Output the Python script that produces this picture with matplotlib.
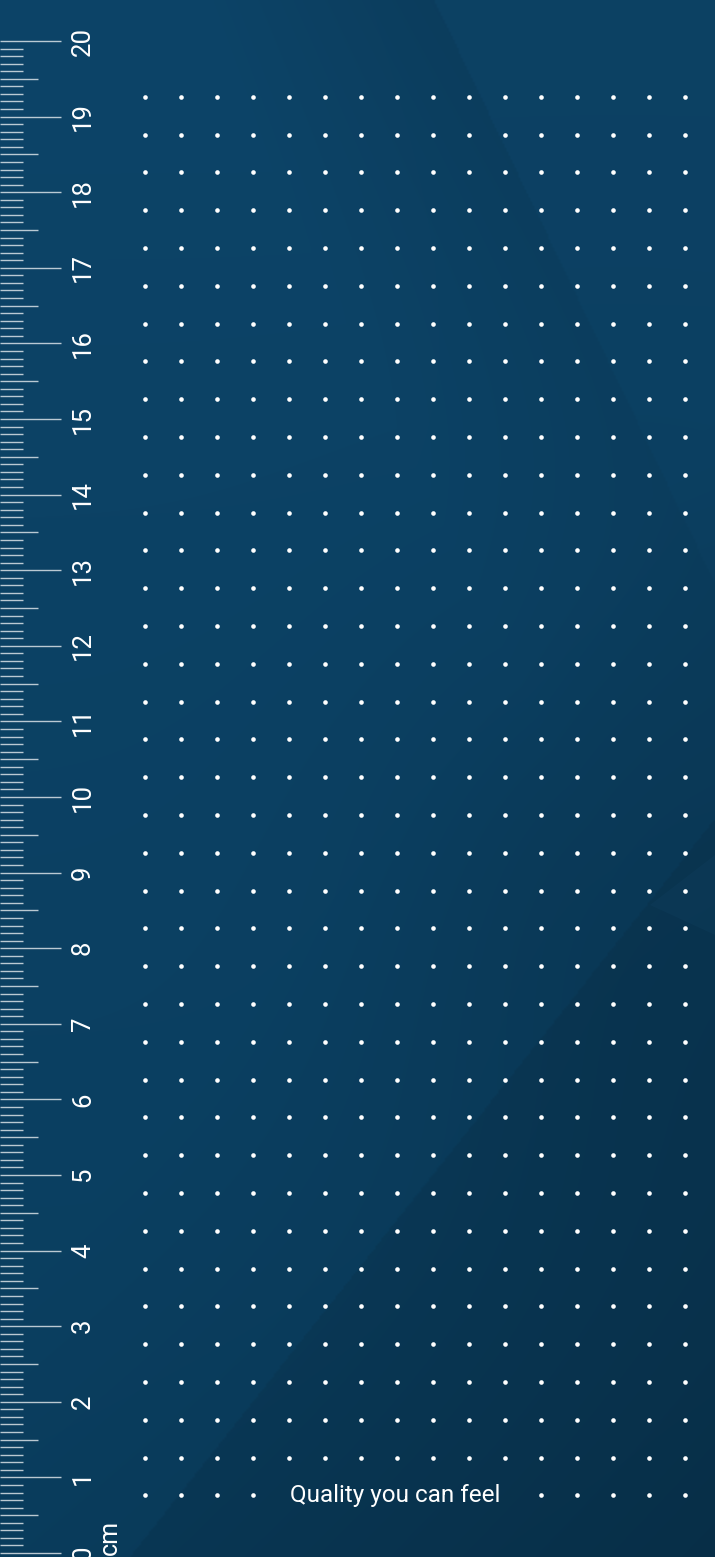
import numpy as np
import matplotlib
matplotlib.use("Agg")
import matplotlib.pyplot as plt

# ruler / grid values (cm)
cm_labels = [str(i) for i in range(0, 21)]
cm_marks = np.arange(0, 21)
mm_marks = np.arange(0, 201) / 10.0
dot_rows = 0.763 + 0.5 * np.arange(38)          # cm
dot_cols = 144.5 + 36.0 * np.arange(16)         # px
text_gap_cols = [4, 5, 6, 7, 8, 9, 10]          # columns hidden behind the slogan
slogan = "Quality you can feel"
unit = "cm"

W, H = 715, 1557
PX_PER_CM = 75.6
ZERO_PX = 1553.0
ylo = -(H - ZERO_PX) / PX_PER_CM
yhi = ZERO_PX / PX_PER_CM

plt.rcParams['font.family'] = ['Roboto', 'DejaVu Sans']

fig = plt.figure(figsize=(W / 100, H / 100), dpi=100)
ax = fig.add_axes([0, 0, 1, 1])
ax.set_xlim(0, W)
ax.set_ylim(ylo, yhi)
ax.axis('off')

# background shading
X, Y = np.meshgrid(np.linspace(0, W, 360), np.linspace(0, H, 780))
top = np.array([13, 68, 104]) / 255.0
bot = np.array([10, 62, 95]) / 255.0
t = (Y / H)[..., None]
img = top * (1 - t) + bot * t
# darker band left of the upper diagonal edge
p1, p2 = np.array([435.0, 0.0]), np.array([705.0, 560.0])
n1 = np.array([p2[1] - p1[1], -(p2[0] - p1[0])])
n1 /= np.hypot(*n1)
d1 = (X - p1[0]) * n1[0] + (Y - p1[1]) * n1[1]
band = np.where(d1 < 0, 0.75 * np.clip((d1 + 220) / 220, 0, 1), 0.3) * np.clip(1 - Y / 1100, 0, 1)
img = img * (1 - 0.14 * band[..., None])
# darker lower-right region
q1, q2 = np.array([130.0, 1557.0]), np.array([620.0, 940.0])
n2 = np.array([q2[1] - q1[1], -(q2[0] - q1[0])])
n2 /= np.hypot(*n2)
d2 = -((X - q1[0]) * n2[0] + (Y - q1[1]) * n2[1])
low = np.where(d2 > 0, 0.12 + 0.14 * np.clip(d2 / 500, 0, 1), 0.05 * np.clip((d2 + 250) / 250, 0, 1))
img = img * (1 - low[..., None])
# soft mid-right darkening
mid = np.exp(-(((X - 620) / 260) ** 2 + ((Y - 880) / 320) ** 2))
img = img * (1 - 0.08 * mid[..., None])
ax.imshow(np.clip(img, 0, 1), extent=(0, W, ylo, yhi), origin='upper',
          aspect='auto', interpolation='bilinear', zorder=0)

# faint lighter edge at right middle
ax.fill([715, 650, 715], [(ZERO_PX - 855) / PX_PER_CM, (ZERO_PX - 905) / PX_PER_CM,
                          (ZERO_PX - 935) / PX_PER_CM],
        color='#164a6c', alpha=0.18, lw=0, zorder=1)

# ruler ticks
tick_len = np.where(np.isclose(mm_marks % 1, 0), 61,
                    np.where(np.isclose(mm_marks % 0.5, 0), 38, 23))
ax.hlines(mm_marks, 0, tick_len, colors='white', alpha=0.72, lw=1.0, zorder=3)

for v, lab in zip(cm_marks, cm_labels):
    ax.text(83, v, lab, rotation=90, ha='center', va='center',
            color='white', fontsize=18.5, zorder=4)
ax.text(110, (ZERO_PX - 1537) / PX_PER_CM, unit, rotation=90, ha='center',
        va='center', color='white', fontsize=18, zorder=4)

# dot grid
gx, gy = np.meshgrid(dot_cols, dot_rows)
keep = np.ones_like(gx, dtype=bool)
keep[0, text_gap_cols] = False
ax.scatter(gx[keep], gy[keep], s=11, color='white', lw=0, zorder=4)

ax.text(395, dot_rows[0], slogan, ha='center', va='center',
        color='white', fontsize=17.5, zorder=4)

fig.savefig("out.png", dpi=100)
